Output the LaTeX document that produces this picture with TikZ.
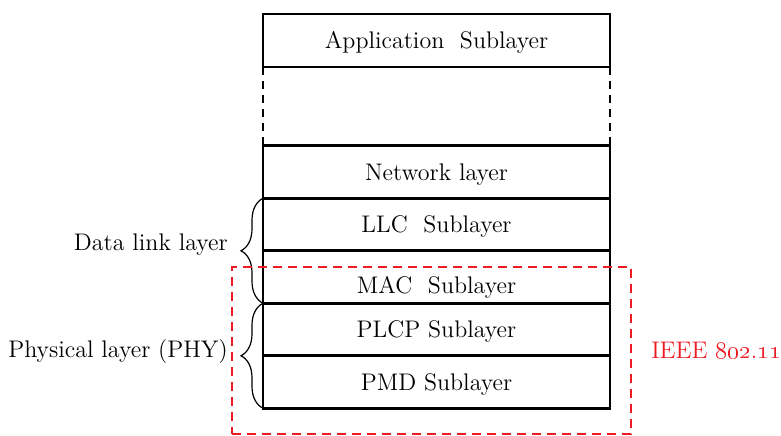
\documentclass[tikz,border=0pt]{standalone}
\usetikzlibrary{positioning,decorations.pathreplacing}

\definecolor{ieeered}{RGB}{237,28,36}

\begin{document}
\begin{tikzpicture}[x=0.5pt, y=-0.5pt,
        layer/.style={draw, line width=1.3pt, minimum width=173.5pt, minimum height=26.25pt,
                inner sep=0pt, outer sep=0pt, text height=10pt, text depth=2pt,
                font=\fontsize{12}{14}\selectfont},
        gapside/.style={line width=1.3pt, dash pattern=on 4pt off 3pt},
        brc/.style={decorate, decoration={brace, amplitude=11pt}, line width=0.6pt},
        side/.style={font=\fontsize{12}{14}\selectfont}]
        \useasboundingbox (0,0) rectangle (781,435);

        % protocol stack
        \node[layer, minimum height=26.5pt] (app) at (436.5,40.5) {Application~~Sublayer};
        \node[layer] (net) at (436.5,172) {Network layer};
        \node[layer, below=0pt of net] (llc) {LLC~~Sublayer};
        \node[layer, below=0pt of llc] (mac) {\raisebox{-4pt}[0pt][0pt]{MAC~~Sublayer}};
        \node[layer, below=0pt of mac] (plcp) {PLCP Sublayer};
        \node[layer, below=0pt of plcp] (pmd) {PMD Sublayer};

        \draw[gapside] (app.south west) -- (net.north west);
        \draw[gapside] (app.south east) -- (net.north east);

        % braces
        \draw[brc] (mac.south west) -- (llc.north west)
                node[midway, left=14pt, yshift=3pt, side] (dll) {Data link layer};
        \draw[brc] (pmd.south west) -- (plcp.north west)
                node[midway, left=14pt, yshift=2pt, side] (phy) {Physical layer (PHY)};

        % IEEE 802.11 scope
        \node[draw=ieeered, line width=1.2pt, dash pattern=on 4.5pt off 3pt,
                minimum width=199.5pt, minimum height=83.5pt, inner sep=0pt] (ieee) at (431.5,350.5) {};
        \node[right=6pt of ieee, side, text=ieeered] (ieeetxt) {IEEE \oldstylenums{802}.\oldstylenums{11}};
\end{tikzpicture}
\end{document}
